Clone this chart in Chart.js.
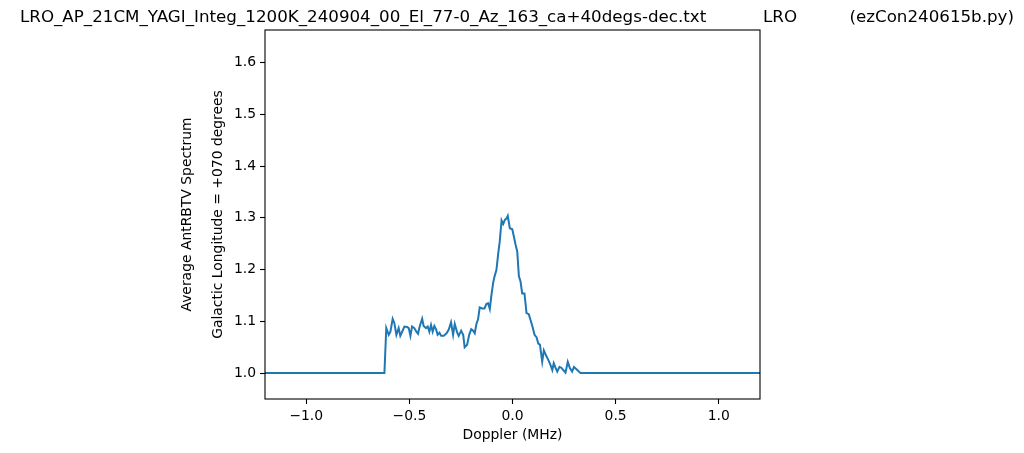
<!DOCTYPE html>
<html>
<head>
<meta charset="utf-8">
<script src="https://cdn.jsdelivr.net/npm/chart.js@4"></script>
<style>
  html, body { margin: 0; padding: 0; background: #fff; }
  #wrap { width: 1024px; height: 453px; }
</style>
</head>
<body>
<div id="wrap"><canvas id="spectrumChart" width="1024" height="453"></canvas></div>
<script>
// スペクトルデータ
const dopplerMHz = [
  -1.2, -0.621, -0.612, -0.600, -0.592, -0.581, -0.573, -0.563, -0.552, -0.544,
  -0.535, -0.524, -0.511, -0.503, -0.495, -0.487, -0.476, -0.466, -0.458, -0.450,
  -0.438, -0.431, -0.419, -0.411, -0.403, -0.395, -0.387, -0.379, -0.370, -0.363,
  -0.354, -0.346, -0.333, -0.320, -0.309, -0.298, -0.288, -0.280, -0.268, -0.261,
  -0.249, -0.239, -0.232, -0.220, -0.210, -0.200, -0.191, -0.183, -0.175, -0.167,
  -0.159, -0.147, -0.136, -0.126, -0.118, -0.110, -0.102, -0.094, -0.087, -0.078,
  -0.069, -0.062, -0.053, -0.045, -0.037, -0.029, -0.023, -0.013, -0.001, 0.006,
  0.015, 0.023, 0.031, 0.039, 0.047, 0.058, 0.068, 0.079, 0.087, 0.096,
  0.107, 0.117, 0.125, 0.133, 0.144, 0.152, 0.164, 0.173, 0.184, 0.193,
  0.200, 0.209, 0.217, 0.228, 0.238, 0.246, 0.257, 0.268, 0.278, 0.289,
  0.298, 0.314, 0.330, 1.2
];
const spectrum = [
  1.000, 1.000, 1.087, 1.074, 1.080, 1.105, 1.097, 1.074, 1.087, 1.072,
  1.080, 1.090, 1.089, 1.087, 1.072, 1.090, 1.087, 1.080, 1.076, 1.090,
  1.105, 1.091, 1.087, 1.090, 1.080, 1.093, 1.080, 1.091, 1.084, 1.074,
  1.078, 1.072, 1.072, 1.077, 1.084, 1.098, 1.074, 1.095, 1.078, 1.072,
  1.082, 1.074, 1.050, 1.055, 1.074, 1.085, 1.082, 1.077, 1.095, 1.104,
  1.127, 1.125, 1.125, 1.134, 1.135, 1.124, 1.151, 1.174, 1.187, 1.199,
  1.232, 1.254, 1.295, 1.288, 1.296, 1.299, 1.304, 1.280, 1.278, 1.265,
  1.248, 1.235, 1.187, 1.177, 1.154, 1.154, 1.116, 1.114, 1.103, 1.091,
  1.074, 1.069, 1.057, 1.055, 1.022, 1.044, 1.033, 1.026, 1.016, 1.006,
  1.019, 1.010, 1.003, 1.012, 1.010, 1.006, 1.001, 1.022, 1.010, 1.003,
  1.012, 1.006, 1.000, 1.000
];

// 目盛り
const xTickValues = [-1.0, -0.5, 0.0, 0.5, 1.0];
const yTickValues = [1.0, 1.1, 1.2, 1.3, 1.4, 1.5, 1.6];

const titleLeft = 'LRO_AP_21CM_YAGI_Integ_1200K_240904_00_El_77-0_Az_163_ca+40degs-dec.txt';
const titleMid = 'LRO';
const titleRight = '(ezCon240615b.py)';
const yLabelLines = ['Average AntRBTV Spectrum', 'Galactic Longitude = +070 degrees'];
const xLabel = 'Doppler (MHz)';

const FONT = '"DejaVu Sans", sans-serif';

// 枠線・タイトル・軸ラベルを描くプラグイン
const decorPlugin = {
  id: 'decor',
  afterDraw(chart) {
    const ctx = chart.ctx;
    const a = chart.chartArea;
    ctx.save();
    ctx.strokeStyle = '#000';
    ctx.lineWidth = 1.1;
    ctx.strokeRect(a.left, a.top, a.right - a.left, a.bottom - a.top);

    ctx.fillStyle = '#000';
    ctx.font = '16.7px ' + FONT;
    ctx.textBaseline = 'alphabetic';
    ctx.textAlign = 'left';
    ctx.fillText(titleLeft, 20, 22);
    ctx.fillText(titleMid, 763, 22);
    ctx.textAlign = 'right';
    ctx.fillText(titleRight, 1014, 22);

    ctx.font = '13.9px ' + FONT;
    ctx.textAlign = 'center';
    ctx.textBaseline = 'middle';
    ctx.fillText(xLabel, (a.left + a.right) / 2, 435);

    const cy = (a.top + a.bottom) / 2;
    const xs = [187, 218];
    yLabelLines.forEach((t, i) => {
      ctx.save();
      ctx.translate(xs[i], cy);
      ctx.rotate(-Math.PI / 2);
      ctx.fillText(t, 0, 0);
      ctx.restore();
    });
    ctx.restore();
  }
};

function fmtTick(v) {
  const s = Math.abs(v).toFixed(1);
  return v < -1e-9 ? '\u2212' + s : s;
}

const ctx = document.getElementById('spectrumChart').getContext('2d');
new Chart(ctx, {
  type: 'line',
  data: {
    datasets: [{
      data: dopplerMHz.map((x, i) => ({ x: x, y: spectrum[i] })),
      borderColor: '#1f77b4',
      borderWidth: 2,
      pointRadius: 0,
      tension: 0,
      fill: false
    }]
  },
  options: {
    responsive: false,
    animation: false,
    events: [],
    layout: { padding: { left: 0, right: 264, top: 30, bottom: 0 } },
    plugins: {
      legend: { display: false },
      tooltip: { enabled: false }
    },
    scales: {
      x: {
        type: 'linear',
        min: -1.2,
        max: 1.2,
        afterBuildTicks(scale) {
          scale.ticks = xTickValues.map(v => ({ value: v }));
        },
        afterFit(scale) { scale.height = 54; },
        grid: {
          drawOnChartArea: false,
          drawTicks: true,
          tickLength: 5,
          tickColor: '#000',
          tickWidth: 1.1
        },
        border: { display: false },
        ticks: {
          color: '#000',
          padding: 4,
          maxRotation: 0,
          autoSkip: false,
          font: { family: FONT, size: 13.9 },
          callback: v => fmtTick(v)
        }
      },
      y: {
        type: 'linear',
        min: 0.95,
        max: 1.663,
        afterBuildTicks(scale) {
          scale.ticks = yTickValues.map(v => ({ value: v }));
        },
        afterFit(scale) { scale.width = 265; },
        grid: {
          drawOnChartArea: false,
          drawTicks: true,
          tickLength: 5,
          tickColor: '#000',
          tickWidth: 1.1
        },
        border: { display: false },
        ticks: {
          color: '#000',
          padding: 4,
          autoSkip: false,
          font: { family: FONT, size: 13.9 },
          callback: v => fmtTick(v)
        }
      }
    }
  },
  plugins: [decorPlugin]
});
</script>
</body>
</html>
